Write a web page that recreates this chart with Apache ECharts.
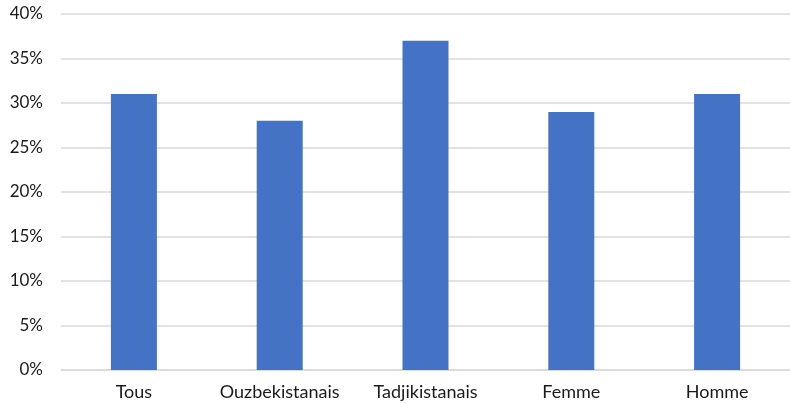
<!DOCTYPE html>
<html>
<head>
<meta charset="utf-8">
<script src="https://cdn.jsdelivr.net/npm/echarts@6/dist/echarts.min.js"></script>
<style>
  html, body { margin: 0; padding: 0; background: #fff; }
  #chart { width: 790px; height: 404px; }
</style>
</head>
<body>
<div id="chart"></div>
<script>
// données
var categories = ['Tous', 'Ouzbekistanais', 'Tadjikistanais', 'Femme', 'Homme'];
var values = [31, 28, 37, 29, 31];
var yTicks = [0, 5, 10, 15, 20, 25, 30, 35, 40];

var chart = echarts.init(document.getElementById('chart'));
chart.setOption({
    animation: false,
    backgroundColor: '#fff',
    textStyle: { fontFamily: 'Lato' },
    grid: {
        left: 61,
        right: -3,
        top: 14,
        bottom: 34,
        containLabel: false
    },
    xAxis: {
        type: 'category',
        data: categories,
        axisTick: { show: false },
        axisLine: { lineStyle: { color: '#d9d9d9', width: 1.5 } },
        axisLabel: {
            color: '#1a1a1a',
            fontSize: 18,
            margin: 13,
            interval: 0,
            hideOverlap: false,
            fontFamily: 'Lato'
        }
    },
    yAxis: {
        type: 'value',
        min: yTicks[0],
        max: yTicks[yTicks.length - 1],
        interval: 5,
        axisLine: { show: false },
        axisTick: { show: false },
        splitLine: { lineStyle: { color: '#d9d9d9', width: 1.5 } },
        axisLabel: {
            color: '#1a1a1a',
            fontSize: 17,
            margin: 18,
            fontFamily: 'Lato',
            formatter: '{value}%'
        }
    },
    series: [{
        type: 'bar',
        data: values,
        barWidth: 46,
        itemStyle: { color: '#4472c4' }
    }]
});
</script>
</body>
</html>
